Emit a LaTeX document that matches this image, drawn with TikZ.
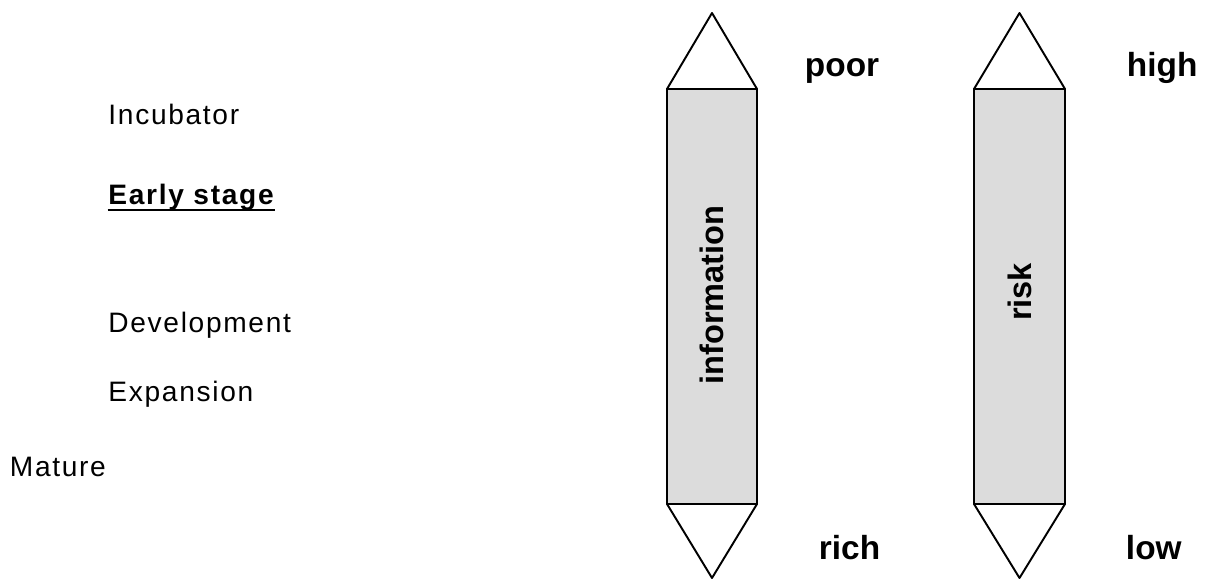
\documentclass[tikz,border=0pt]{standalone}
\usepackage{fontspec}
\setmainfont{Liberation Sans}
\newfontfamily\stagefont[LetterSpace=6]{Liberation Sans}
\definecolor{barfill}{RGB}{220, 220, 220}
\usepackage{tikz}
\usetikzlibrary{positioning}
\tikzset{
  stagelabel/.style={anchor=base west, inner sep=0pt, font=\fontsize{16}{19}\selectfont\stagefont},
  scalelabel/.style={anchor=base west, inner sep=0pt, font=\fontsize{19}{22}\selectfont\bfseries},
  barlabel/.style={rotate=90, inner sep=0pt, font=\fontsize{18.5}{22}\selectfont\bfseries}
}
\begin{document}
\begin{tikzpicture}[line width=1.1pt, line join=round]
    \useasboundingbox (0, 0) rectangle (24.16, 11.58);
    % stages
    \node[stagelabel] (incubator) at (2.15, 9.08) {Incubator};
    \node[stagelabel, font=\fontsize{16}{19}\selectfont\stagefont\bfseries] (early) at (2.15, 7.48) {Early stage};
    \draw[line width=1.2pt] ([yshift=-0.1cm]early.base west) -- ([yshift=-0.1cm]early.base east);
    \node[stagelabel] (development) at (2.15, 4.92) {Development};
    \node[stagelabel] (expansion) at (2.15, 3.55) {Expansion};
    \node[stagelabel] (mature) at (0.18, 2.04) {Mature};
    % information bar
    \draw[fill=barfill] (13.34, 1.50) rectangle (15.14, 9.80);
    \draw[fill=white] (13.34, 9.80) -- (14.24, 11.32) -- (15.14, 9.80) -- cycle;
    \draw[fill=white] (13.34, 1.50) -- (14.24, 0.02) -- (15.14, 1.50) -- cycle;
    \node[barlabel] (information) at (14.24, 5.68) {information};
    \node[scalelabel] (poor) at (16.08, 10.04) {poor};
    \node[scalelabel] (rich) at (16.36, 0.38) {rich};
    % risk bar
    \draw[fill=barfill] (19.48, 1.50) rectangle (21.30, 9.80);
    \draw[fill=white] (19.48, 9.80) -- (20.39, 11.32) -- (21.30, 9.80) -- cycle;
    \draw[fill=white] (19.48, 1.50) -- (20.39, 0.02) -- (21.30, 1.50) -- cycle;
    \node[barlabel] (risk) at (20.39, 5.74) {risk};
    \node[scalelabel] (high) at (22.52, 10.04) {high};
    \node[scalelabel] (low) at (22.50, 0.38) {low};
\end{tikzpicture}
\end{document}
